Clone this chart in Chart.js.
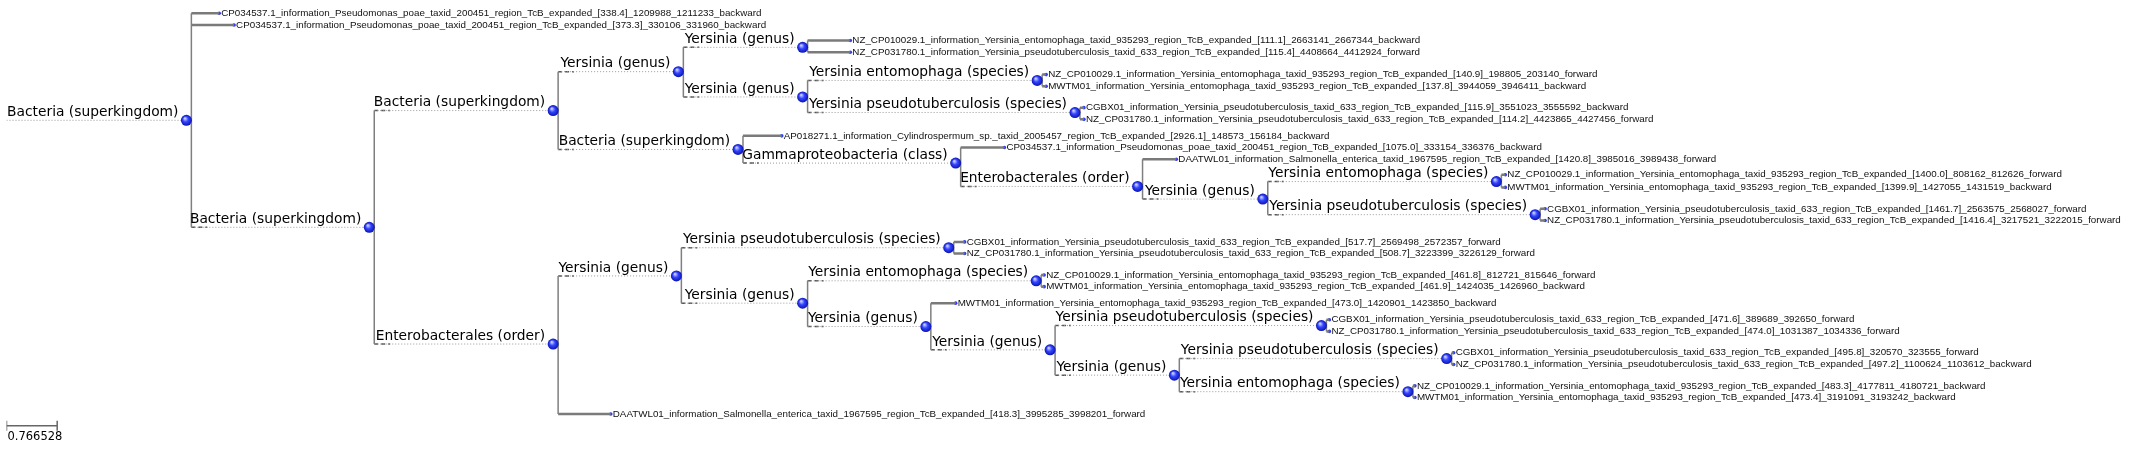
<!DOCTYPE html>
<html>
<head>
<meta charset="utf-8">
<script src="https://cdn.jsdelivr.net/npm/chart.js@4/dist/chart.umd.min.js"></script>
<style>
  html, body { margin: 0; padding: 0; background: #fff; }
  canvas { display: block; }
</style>
</head>
<body>
<canvas id="chart" width="2136" height="476"></canvas>
<script>
// internal nodes: layout position (x = branch depth, y = row)
const nodeIds     = ['R','A','B','C','B1','B2','B1a','B1b','B1b1','B1b2','G','E','Y','Ye','Yp','D','D1','D2','D2a','D2b','D2c','D2c1','D2c2','D2c2a','D2c2b'];
const nodeParents = [null,'R','A','A','B','B','B1','B1','B1b','B1b','B2','G','E','Y','Y','C','D','D','D2','D2','D2b','D2c','D2c','D2c2','D2c2'];
const nodeX       = [186,370,555,555,681,741,806,806,1042,1080,960,1143,1269,1504,1543,679,953,806,1041,930,1055,1328,1180,1454,1415];
const nodeY       = [117,227,107,347,67,147,42,93,76,109,161,185,198,180,214,277,248,305,282,329,353,328,379,362,396];
const nodeLabels  = [
  'Bacteria (superkingdom)','Bacteria (superkingdom)','Bacteria (superkingdom)','Enterobacterales (order)',
  'Yersinia (genus)','Bacteria (superkingdom)','Yersinia (genus)','Yersinia (genus)',
  'Yersinia entomophaga (species)','Yersinia pseudotuberculosis (species)',
  'Gammaproteobacteria (class)','Enterobacterales (order)','Yersinia (genus)',
  'Yersinia entomophaga (species)','Yersinia pseudotuberculosis (species)',
  'Yersinia (genus)','Yersinia pseudotuberculosis (species)','Yersinia (genus)',
  'Yersinia entomophaga (species)','Yersinia (genus)','Yersinia (genus)',
  'Yersinia pseudotuberculosis (species)','Yersinia (genus)',
  'Yersinia pseudotuberculosis (species)','Yersinia entomophaga (species)'
];

// leaves
const leafParents = ['R','R','B1a','B1a','B1b1','B1b1','B1b2','B1b2','B2','G','E','Ye','Ye','Yp','Yp','D1','D1','D2a','D2a','D2b','D2c1','D2c1','D2c2a','D2c2a','D2c2b','D2c2b','C'];
const leafX = [214,229,849,849,1046,1046,1084,1084,780,1004,1177,1508,1508,1548,1548,964,964,1044,1044,955,1331,1331,1456,1456,1417,1417,608];
const leafY = [7,19,35,47,70,82,104,116,133,145,157,173,186,208,220,242,254,276,288,305,322,334,356,368,390,402,419];
const leafLabels = [
  'CP034537.1_information_Pseudomonas_poae_taxid_200451_region_TcB_expanded_[338.4]_1209988_1211233_backward',
  'CP034537.1_information_Pseudomonas_poae_taxid_200451_region_TcB_expanded_[373.3]_330106_331960_backward',
  'NZ_CP010029.1_information_Yersinia_entomophaga_taxid_935293_region_TcB_expanded_[111.1]_2663141_2667344_backward',
  'NZ_CP031780.1_information_Yersinia_pseudotuberculosis_taxid_633_region_TcB_expanded_[115.4]_4408664_4412924_forward',
  'NZ_CP010029.1_information_Yersinia_entomophaga_taxid_935293_region_TcB_expanded_[140.9]_198805_203140_forward',
  'MWTM01_information_Yersinia_entomophaga_taxid_935293_region_TcB_expanded_[137.8]_3944059_3946411_backward',
  'CGBX01_information_Yersinia_pseudotuberculosis_taxid_633_region_TcB_expanded_[115.9]_3551023_3555592_backward',
  'NZ_CP031780.1_information_Yersinia_pseudotuberculosis_taxid_633_region_TcB_expanded_[114.2]_4423865_4427456_forward',
  'AP018271.1_information_Cylindrospermum_sp._taxid_2005457_region_TcB_expanded_[2926.1]_148573_156184_backward',
  'CP034537.1_information_Pseudomonas_poae_taxid_200451_region_TcB_expanded_[1075.0]_333154_336376_backward',
  'DAATWL01_information_Salmonella_enterica_taxid_1967595_region_TcB_expanded_[1420.8]_3985016_3989438_forward',
  'NZ_CP010029.1_information_Yersinia_entomophaga_taxid_935293_region_TcB_expanded_[1400.0]_808162_812626_forward',
  'MWTM01_information_Yersinia_entomophaga_taxid_935293_region_TcB_expanded_[1399.9]_1427055_1431519_backward',
  'CGBX01_information_Yersinia_pseudotuberculosis_taxid_633_region_TcB_expanded_[1461.7]_2563575_2568027_forward',
  'NZ_CP031780.1_information_Yersinia_pseudotuberculosis_taxid_633_region_TcB_expanded_[1416.4]_3217521_3222015_forward',
  'CGBX01_information_Yersinia_pseudotuberculosis_taxid_633_region_TcB_expanded_[517.7]_2569498_2572357_forward',
  'NZ_CP031780.1_information_Yersinia_pseudotuberculosis_taxid_633_region_TcB_expanded_[508.7]_3223399_3226129_forward',
  'NZ_CP010029.1_information_Yersinia_entomophaga_taxid_935293_region_TcB_expanded_[461.8]_812721_815646_forward',
  'MWTM01_information_Yersinia_entomophaga_taxid_935293_region_TcB_expanded_[461.9]_1424035_1426960_backward',
  'MWTM01_information_Yersinia_entomophaga_taxid_935293_region_TcB_expanded_[473.0]_1420901_1423850_backward',
  'CGBX01_information_Yersinia_pseudotuberculosis_taxid_633_region_TcB_expanded_[471.6]_389689_392650_forward',
  'NZ_CP031780.1_information_Yersinia_pseudotuberculosis_taxid_633_region_TcB_expanded_[474.0]_1031387_1034336_forward',
  'CGBX01_information_Yersinia_pseudotuberculosis_taxid_633_region_TcB_expanded_[495.8]_320570_323555_forward',
  'NZ_CP031780.1_information_Yersinia_pseudotuberculosis_taxid_633_region_TcB_expanded_[497.2]_1100624_1103612_backward',
  'NZ_CP010029.1_information_Yersinia_entomophaga_taxid_935293_region_TcB_expanded_[483.3]_4177811_4180721_backward',
  'MWTM01_information_Yersinia_entomophaga_taxid_935293_region_TcB_expanded_[473.4]_3191091_3193242_backward',
  'DAATWL01_information_Salmonella_enterica_taxid_1967595_region_TcB_expanded_[418.3]_3995285_3998201_forward'
];

// scale bar
const scaleLength = 51;
const scaleLabel = '0.766528';
const scaleRow = 431;

const CIRCLE_OFF = 5;
const idx = id => nodeIds.indexOf(id);

const datasets = [];
const line = (pts, opts) => datasets.push(Object.assign({
  data: pts, showLine: true, pointRadius: 0, borderColor: '#7f7f7f', borderWidth: 1.5, fill: false
}, opts));

// vertical connectors
nodeIds.forEach((id, i) => {
  const ys = [];
  nodeParents.forEach((p, j) => { if (p === id) ys.push(nodeY[j]); });
  leafParents.forEach((p, j) => { if (p === id) ys.push(leafY[j]); });
  line([{x: nodeX[i], y: Math.min(...ys)}, {x: nodeX[i], y: Math.max(...ys)}], {});
});
// branches to internal nodes
nodeIds.forEach((id, i) => {
  const p = nodeParents[i];
  const px = p ? nodeX[idx(p)] : 0;
  line([{x: px, y: nodeY[i]}, {x: nodeX[i] - CIRCLE_OFF * 2, y: nodeY[i]}],
       {borderColor: '#9a9a9a', borderWidth: 1, borderDash: [1, 2]});
  if (p) line([{x: px, y: nodeY[i]}, {x: px + 16, y: nodeY[i]}],
       {borderColor: '#555', borderWidth: 1.5, borderDash: [4, 3]});
});
// branches to leaves
leafParents.forEach((p, j) => {
  line([{x: nodeX[idx(p)], y: leafY[j]}, {x: leafX[j], y: leafY[j]}], {borderWidth: 2.5, borderColor: '#7a7a7a'});
});
// leaf dots
datasets.push({
  data: leafX.map((x, j) => ({x, y: leafY[j]})),
  showLine: false, pointRadius: 1.8, pointBackgroundColor: '#2b3cff', pointBorderWidth: 0
});
// scale bar
line([{x: 0, y: scaleRow}, {x: scaleLength, y: scaleRow}], {
  borderColor: '#666', borderWidth: 1.5, pointRadius: 5, pointStyle: 'line', rotation: 90,
  pointBorderColor: '#666', pointBorderWidth: 1.5
});

const treeText = {
  id: 'treeText',
  afterDatasetsDraw(chart) {
    const {ctx, scales: {x, y}} = chart;
    ctx.save();
    // internal node labels and bubbles
    ctx.font = '13.8px "DejaVu Sans"';
    ctx.textAlign = 'right';
    ctx.textBaseline = 'bottom';
    nodeIds.forEach((id, i) => {
      const cx = x.getPixelForValue(nodeX[i] - CIRCLE_OFF);
      const cy = y.getPixelForValue(nodeY[i]);
      ctx.fillStyle = '#000';
      ctx.fillText(nodeLabels[i], cx - 8, cy - 1);
      const g = ctx.createRadialGradient(cx - 1.5, cy - 2, 0.5, cx, cy, 5.5);
      g.addColorStop(0, '#c8ccff');
      g.addColorStop(0.45, '#3344ff');
      g.addColorStop(1, '#0a14b0');
      ctx.fillStyle = g;
      ctx.beginPath();
      ctx.arc(cx, cy, 5.5, 0, Math.PI * 2);
      ctx.fill();
    });
    // leaf labels
    ctx.font = '9.8px "Liberation Sans"';
    ctx.textAlign = 'left';
    ctx.textBaseline = 'middle';
    ctx.fillStyle = '#111';
    leafLabels.forEach((t, j) => {
      ctx.fillText(t, x.getPixelForValue(leafX[j]) + 2, y.getPixelForValue(leafY[j]));
    });
    // scale label
    ctx.font = '11.5px "DejaVu Sans"';
    ctx.textBaseline = 'top';
    ctx.fillStyle = '#000';
    ctx.fillText(scaleLabel, x.getPixelForValue(0) + 1, y.getPixelForValue(scaleRow) + 6);
    ctx.restore();
  }
};

new Chart('chart', {
  type: 'scatter',
  data: { datasets },
  options: {
    responsive: false,
    animation: false,
    layout: { padding: 0 },
    plugins: { legend: { display: false }, tooltip: { enabled: false } },
    scales: {
      x: { type: 'linear', min: 0, max: 2136, display: false },
      y: { type: 'linear', min: 0, max: 476, reverse: true, display: false }
    }
  },
  plugins: [treeText]
});
</script>
</body>
</html>
